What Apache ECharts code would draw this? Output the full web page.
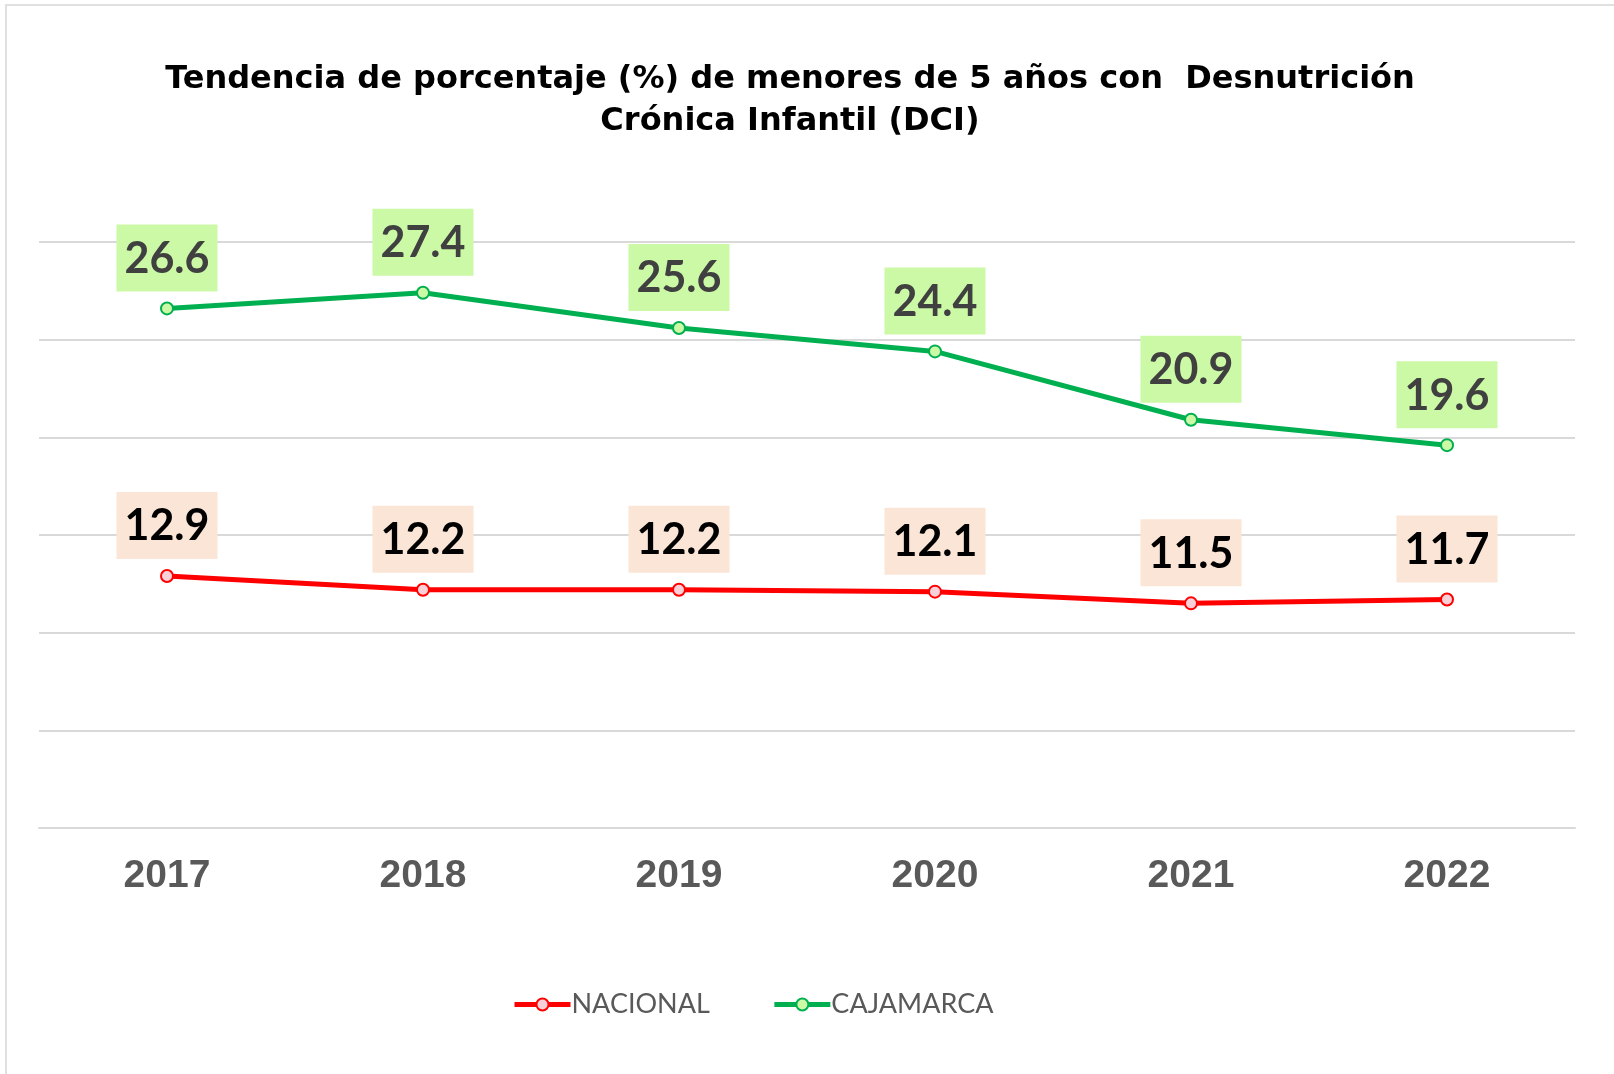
<!DOCTYPE html>
<html>
<head>
<meta charset="utf-8">
<script src="https://cdn.jsdelivr.net/npm/echarts@6/dist/echarts.min.js"></script>
<style>
  html, body { margin: 0; padding: 0; background: #fff; }
  #main { width: 1614px; height: 1074px; }
</style>
</head>
<body>
<div id="main"></div>
<script>
// datos
const years = ['2017', '2018', '2019', '2020', '2021', '2022'];
const nacional = [12.9, 12.2, 12.2, 12.1, 11.5, 11.7];
const cajamarca = [26.6, 27.4, 25.6, 24.4, 20.9, 19.6];

let myChart = echarts.init(document.getElementById('main'));

// estilo de las etiquetas de valor
function valueLabel(bg, color) {
	return {
		show: true,
		position: 'top',
		distance: 10,
		fontFamily: 'Lato',
		fontWeight: 'bold',
		fontSize: 43,
		color: color,
		backgroundColor: bg,
		padding: [13, 8, 11, 8],
		formatter: function (p) { return p.value.toFixed(1); }
	};
}

let option = {
	backgroundColor: '#fff',
	animation: false,
	title: {
		text: 'Tendencia de porcentaje (%) de menores de 5 años con  Desnutrición\nCrónica Infantil (DCI)',
		left: 785,
		top: 54,
		textAlign: 'center',
		textStyle: {
			fontFamily: 'DejaVu Sans',
			fontWeight: 'bold',
			fontSize: 32,
			lineHeight: 42,
			color: '#000'
		}
	},
	graphic: [{
		type: 'rect',
		shape: { x: 6, y: 5, width: 1700, height: 1200 },
		style: { fill: 'none', stroke: '#e0e0e0', lineWidth: 2 },
		silent: true
	}],
	legend: {
		bottom: 51,
		left: 507,
		itemWidth: 56,
		itemHeight: 15,
		itemGap: 62,
		lineStyle: { width: 5 },
		textStyle: {
			fontFamily: 'Lato',
			fontSize: 27,
			color: '#595959',
			padding: [0, 0, 0, -4]
		},
		data: ['NACIONAL', 'CAJAMARCA']
	},
	grid: {
		left: 39,
		right: 39,
		top: 242,
		bottom: 246,
		containLabel: false
	},
	xAxis: {
		type: 'category',
		data: years,
		boundaryGap: true,
		axisLine: { show: true, lineStyle: { color: '#d9d9d9', width: 2 } },
		axisTick: { show: false },
		axisLabel: {
			margin: 29,
			fontFamily: 'Liberation Sans',
			fontWeight: 'bold',
			fontSize: 39,
			color: '#595959'
		}
	},
	yAxis: {
		type: 'value',
		min: 0,
		max: 30,
		interval: 5,
		axisLabel: { show: false },
		axisLine: { show: false },
		axisTick: { show: false },
		splitLine: { lineStyle: { color: '#d9d9d9', width: 2 } }
	},
	series: [
		{
			name: 'NACIONAL',
			type: 'line',
			data: nacional,
			symbol: 'circle',
			symbolSize: 12,
			lineStyle: { color: '#ff0000', width: 5 },
			itemStyle: { color: '#f8d0d8', borderColor: '#ff0000', borderWidth: 2 },
			label: valueLabel('#fbe5d6', '#000000')
		},
		{
			name: 'CAJAMARCA',
			type: 'line',
			data: cajamarca,
			symbol: 'circle',
			symbolSize: 12,
			lineStyle: { color: '#00b050', width: 5 },
			itemStyle: { color: '#ccf9a6', borderColor: '#00b050', borderWidth: 2 },
			label: valueLabel('#ccf9a6', '#404040')
		}
	]
};

myChart.setOption(option);
</script>
</body>
</html>
